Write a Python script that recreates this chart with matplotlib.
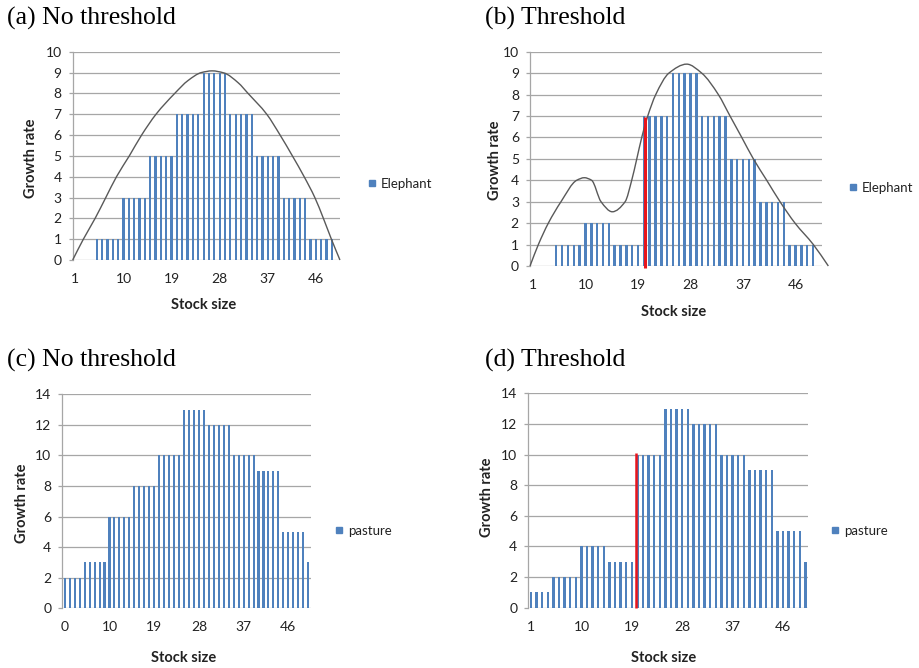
import matplotlib
matplotlib.use("Agg")
import matplotlib.pyplot as plt
from matplotlib.lines import Line2D
from matplotlib.path import Path
from matplotlib.patches import PathPatch

plt.rcParams['font.family'] = ['Lato', 'DejaVu Sans']

# ---------------- data ----------------
stock_index = list(range(50))
tick_pos = [0, 9, 18, 27, 36, 45]
tick_labels_1 = ['1', '10', '19', '28', '37', '46']
tick_labels_0 = ['0', '10', '19', '28', '37', '46']

elephant_no_threshold = [0, 0, 0, 0, 1, 1, 1, 1, 1, 3, 3, 3, 3, 3, 5, 5, 5, 5, 5,
                         7, 7, 7, 7, 7, 9, 9, 9, 9, 9, 7, 7, 7, 7, 7, 5, 5, 5, 5, 5,
                         3, 3, 3, 3, 3, 1, 1, 1, 1, 1, 0]
elephant_threshold = [0, 0, 0, 0, 1, 1, 1, 1, 1, 2, 2, 2, 2, 2, 1, 1, 1, 1, 1,
                      7, 7, 7, 7, 7, 9, 9, 9, 9, 9, 7, 7, 7, 7, 7, 5, 5, 5, 5, 5,
                      3, 3, 3, 3, 3, 1, 1, 1, 1, 1, 0]
pasture_no_threshold = [2, 2, 2, 2, 3, 3, 3, 3, 3, 6, 6, 6, 6, 6, 8, 8, 8, 8, 8,
                        10, 10, 10, 10, 10, 13, 13, 13, 13, 13, 12, 12, 12, 12, 12,
                        10, 10, 10, 10, 10, 9, 9, 9, 9, 9, 5, 5, 5, 5, 5, 3]
pasture_threshold = [1, 1, 1, 1, 2, 2, 2, 2, 2, 4, 4, 4, 4, 4, 3, 3, 3, 3, 3,
                     10, 10, 10, 10, 10, 13, 13, 13, 13, 13, 12, 12, 12, 12, 12,
                     10, 10, 10, 10, 10, 9, 9, 9, 9, 9, 5, 5, 5, 5, 5, 3]

# hand-drawn curves (category-index coordinates)
curve_a_x = [-0.5, 1.5, 3.7, 5.7, 7.7, 10.1, 12.4, 15.1, 18.6, 21.1, 23.6, 25.6,
             27.8, 30.5, 32.3, 35.8, 38.3, 40.6, 42.8, 44.8, 46.4, 47.9, 49.5]
curve_a_y = [0, 1, 2, 3, 4, 5, 6, 7, 8, 8.62, 9.0, 9.08,
             8.98, 8.5, 8, 7, 6, 5, 4, 3, 2, 1, 0]
curve_b_x = [-0.5, 0.93, 2.64, 4.81, 7.5, 8.8, 10.06, 11.67, 13.6,
             15.8, 16.93, 17.8, 18.65, 19.68, 21.05, 23.3, 26.36,
             28.93, 31.78, 33.78, 35.79, 37.78, 40.07, 42.35, 44.92, 48.06, 50.63]
curve_b_y = [0, 1, 2, 3, 4, 4.12, 4, 3, 2.53,
             3, 4, 5, 6, 7, 8, 9, 9.42,
             9, 8, 7, 6, 5, 4, 3, 2, 1, 0]

# thresholds (x position, height)
threshold_b = (19.15, 6.95)
threshold_d = (18.7, 10.1)

BLUE = '#4F81BD'
GRID = '#A6A6A6'

fig = plt.figure(figsize=(9.2, 6.68), dpi=100)
W, H = 920.0, 668.0


def fx(px):
    return px / W


def fy(py):
    return 1 - py / H


def smooth_curve(ax, xs, ys):
    # smoothed line through the read points, drawn as a Bezier path
    # (shape-preserving tangents, like a spreadsheet "smoothed line")
    n = len(xs)
    h = [xs[i + 1] - xs[i] for i in range(n - 1)]
    d = [(ys[i + 1] - ys[i]) / h[i] for i in range(n - 1)]
    m = [0.0] * n
    m[0], m[-1] = d[0], d[-1]
    for i in range(1, n - 1):
        if d[i - 1] * d[i] <= 0:
            m[i] = 0.0
        else:
            w1 = 2 * h[i] + h[i - 1]
            w2 = h[i] + 2 * h[i - 1]
            m[i] = (w1 + w2) / (w1 / d[i - 1] + w2 / d[i])
    verts = [(xs[0], ys[0])]
    codes = [Path.MOVETO]
    for i in range(n - 1):
        verts += [(xs[i] + h[i] / 3, ys[i] + m[i] * h[i] / 3),
                  (xs[i + 1] - h[i] / 3, ys[i + 1] - m[i + 1] * h[i] / 3),
                  (xs[i + 1], ys[i + 1])]
        codes += [Path.CURVE4] * 3
    patch = PathPatch(Path(verts, codes), fill=False, edgecolor='#595959',
                      linewidth=1.0, zorder=3, clip_on=False)
    ax.add_patch(patch)


def make_panel(rect, values, ymax, ystep, xlabels, legend_label, legend_pos,
               title, title_pos, xlab_pos, ylab_pos):
    ax = fig.add_axes(rect)
    ax.set_xlim(-0.5, 49.5)
    ax.set_ylim(0, ymax)
    ax.set_yticks(list(range(0, ymax + 1, ystep)))
    ax.set_xticks(tick_pos)
    ax.set_xticklabels(xlabels)
    ax.yaxis.grid(True, color=GRID, linewidth=0.9)
    ax.set_axisbelow(True)
    for s in ['top', 'right', 'bottom']:
        ax.spines[s].set_visible(False)
    ax.spines['left'].set_color(GRID)
    ax.spines['left'].set_linewidth(0.9)
    ax.tick_params(axis='x', length=0, pad=9.5, labelsize=10, labelcolor='#222222')
    ax.tick_params(axis='y', length=3, width=0.9, color=GRID, pad=5,
                   labelsize=10, labelcolor='#222222')
    ax.bar(stock_index, values, width=0.42, color=BLUE, linewidth=0,
           antialiased=False, zorder=2)
    fig.text(fx(title_pos[0]), fy(title_pos[1]), title, family='Liberation Serif',
             fontsize=18.5, ha='left', va='baseline')
    fig.text(fx(xlab_pos[0]), fy(xlab_pos[1]), 'Stock size', fontsize=10.5,
             fontweight='bold', ha='center', va='center', color='#222222')
    fig.text(fx(ylab_pos[0]), fy(ylab_pos[1]), 'Growth rate', fontsize=10.5,
             fontweight='bold', ha='center', va='center', rotation=90, color='#222222')
    handle = Line2D([], [], marker='s', linestyle='', color=BLUE, markersize=4.6)
    fig.legend([handle], [legend_label], loc='center left',
               bbox_to_anchor=(fx(legend_pos[0] - 5.5), fy(legend_pos[1])),
               frameon=False, borderpad=0, borderaxespad=0, handlelength=0.8,
               handletextpad=0.3, fontsize=9.5, labelcolor='#222222')
    return ax


ax_a = make_panel([0.0790, 0.6108, 0.2905, 0.3118], elephant_no_threshold, 10, 1,
                  tick_labels_1, 'Elephant', (372, 184), '(a) No threshold', (7, 25),
                  (204, 305), (31, 158))
smooth_curve(ax_a, curve_a_x, curve_a_y)

ax_b = make_panel([0.5761, 0.6018, 0.3171, 0.3208], elephant_threshold, 10, 1,
                  tick_labels_1, 'Elephant', (853, 188), '(b) Threshold', (485, 25),
                  (674, 312), (495, 160))
smooth_curve(ax_b, curve_b_x, curve_b_y)
ax_b.plot([threshold_b[0], threshold_b[0]], [-0.08, threshold_b[1]], color='#E8141C',
          linewidth=2.2, zorder=4, clip_on=False, solid_capstyle='butt')

ax_c = make_panel([0.0677, 0.0894, 0.2700, 0.3204], pasture_no_threshold, 14, 2,
                  tick_labels_0, 'pasture', (339, 531), '(c) No threshold', (7, 367),
                  (184, 658), (22, 503))

ax_d = make_panel([0.5742, 0.0903, 0.3043, 0.3210], pasture_threshold, 14, 2,
                  tick_labels_1, 'pasture', (835, 531), '(d) Threshold', (485, 367),
                  (664, 658), (487, 497))
ax_d.plot([threshold_d[0], threshold_d[0]], [0, threshold_d[1]], color='#E8141C',
          linewidth=1.8, zorder=4, clip_on=False, solid_capstyle='butt')

fig.savefig('out.png', dpi=100)
